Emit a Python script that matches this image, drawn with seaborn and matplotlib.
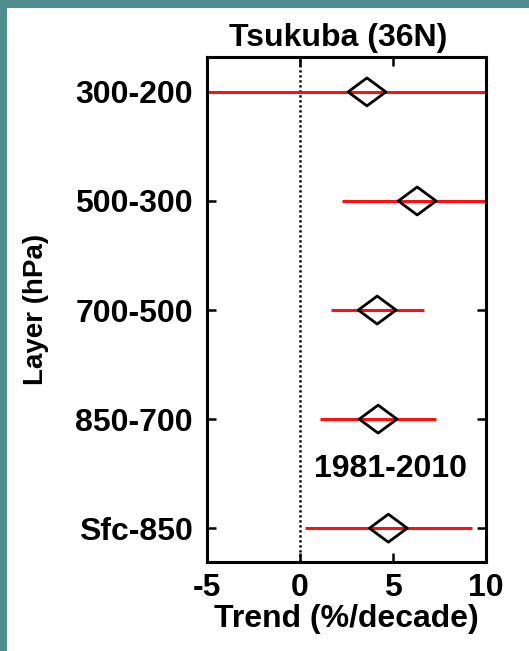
import matplotlib
matplotlib.use("Agg")
import matplotlib.pyplot as plt
from matplotlib.path import Path
from matplotlib.patches import Rectangle
import numpy as np
import pandas as pd
import seaborn as sns

# Layer trends of precipitable water at Tsukuba, 1981-2010
layers = ["300-200", "500-300", "700-500", "850-700", "Sfc-850"]
trend = [3.6, 6.3, 4.15, 4.2, 4.75]
ci_low = [-6.5, 2.25, 1.65, 1.1, 0.25]
ci_high = [13.5, 10.8, 6.65, 7.3, 9.25]
x_ticks = [-5, 0, 5, 10]

df = pd.DataFrame({"layer": layers, "trend": trend, "low": ci_low, "high": ci_high})

sns.set_theme(style="ticks")
plt.rcParams["font.family"] = ["Liberation Sans", "DejaVu Sans"]
plt.rcParams["font.weight"] = "bold"
plt.rcParams["text.color"] = "black"
plt.rcParams["axes.labelcolor"] = "black"

fig = plt.figure(figsize=(5.29, 6.51), dpi=100)
fig.patch.set_facecolor("#4f8e8c")
# white panel inside the teal frame
fig.patches.append(Rectangle((7 / 529, 0), 1 - 7 / 529, 1 - 8 / 651,
                             transform=fig.transFigure, facecolor="white",
                             edgecolor="none", zorder=-10))

ax = fig.add_axes([207 / 529, 89 / 651, 279 / 529, 505 / 651])
ax.set_facecolor("white")

# wide open diamond marker
diamond = Path([(-1, 0), (0, 0.74), (1, 0), (0, -0.74), (-1, 0)],
               [Path.MOVETO, Path.LINETO, Path.LINETO, Path.LINETO, Path.CLOSEPOLY])

ypos = np.arange(len(layers))
ax.axvline(0, color="black", lw=1.8, ls=(0, (0.9, 1.1)), zorder=1)
ax.hlines(ypos, df["low"], df["high"], color="#ff1010", lw=2.2, zorder=2)
sns.scatterplot(data=df, x="trend", y="layer", ax=ax, marker=diamond, s=740,
                facecolor="none", edgecolor="black", linewidth=2.0, zorder=3,
                legend=False)

ax.set_xlim(-5, 10)
ax.set_ylim(len(layers) - 1 + 0.31, -0.32)
ax.set_xticks(x_ticks)
ax.set_xticklabels([str(t) for t in x_ticks])
ax.set_yticks(ypos)
ax.set_yticklabels(layers)

ax.tick_params(direction="in", length=6.5, width=1.8, top=True, right=True,
               labelsize=23, colors="black")
ax.tick_params(axis="y", pad=10)
ax.tick_params(axis="x", pad=8)
for lbl in ax.get_xticklabels() + ax.get_yticklabels():
    lbl.set_fontweight("bold")
for sp in ax.spines.values():
    sp.set_linewidth(2.2)
    sp.set_color("black")

ax.set_title("Tsukuba (36N)", fontsize=23, fontweight="bold", pad=8, x=0.47,
             color="black")
ax.set_xlabel("Trend (%/decade)", fontsize=23, fontweight="bold", labelpad=1,
              color="black")
ax.set_ylabel("Layer (hPa)", fontsize=20, fontweight="bold", labelpad=19,
              color="black")
ax.text(4.85, 3.46, "1981-2010", fontsize=23, fontweight="bold",
        ha="center", va="center", color="black")

fig.savefig("out.png", dpi=100, facecolor=fig.get_facecolor())
